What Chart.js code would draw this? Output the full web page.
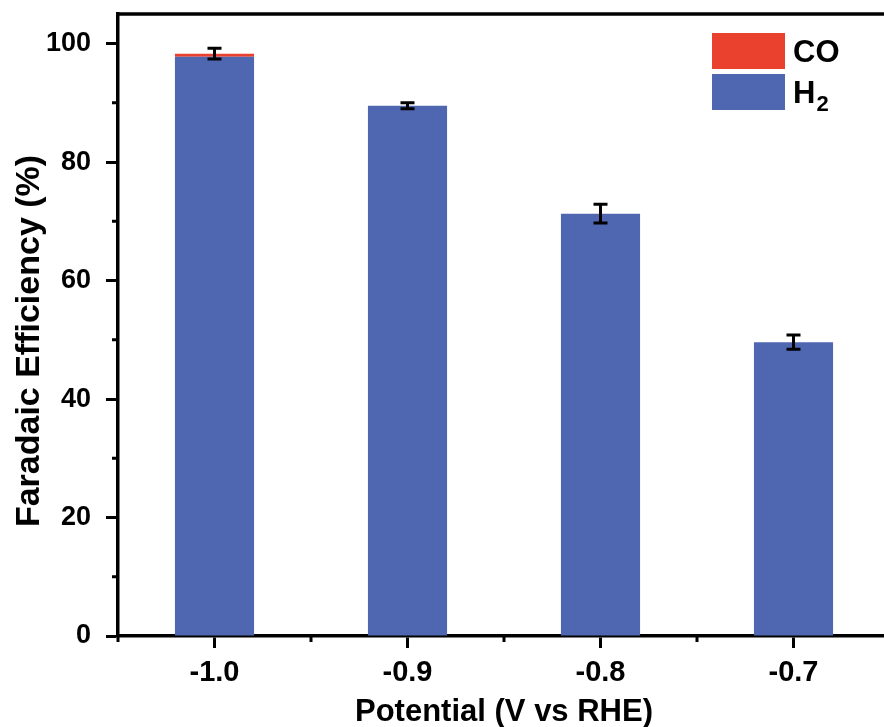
<!DOCTYPE html>
<html>
<head>
<meta charset="utf-8">
<title>Faradaic Efficiency</title>
<script src="https://cdn.jsdelivr.net/npm/chart.js@4.4.1/dist/chart.umd.min.js"></script>
<style>
  html, body { margin: 0; padding: 0; background: #fff; overflow: hidden; }
  #wrap { width: 900px; height: 727px; }
</style>
</head>
<body>
<div id="wrap"><canvas id="feChart"></canvas></div>
<script>
// Faradaic efficiency per applied potential
const potentials = ['-1.0', '-0.9', '-0.8', '-0.7'];
const h2Values = [97.8, 89.5, 71.3, 49.6];
const coValues = [0.5, 0, 0, 0];
const totalErrors = [0.9, 0.5, 1.6, 1.2];   // +/- on the stacked total
const yMajorTicks = [0, 20, 40, 60, 80, 100];
const yMinorTicks = [10, 30, 50, 70, 90];
const yMax = 105;
const yTitle = 'Faradaic Efficiency (%)';

const blue = 'rgb(79, 103, 176)';
const red = 'rgb(234, 65, 47)';
const fontFamily = '"Liberation Sans", Arial, Helvetica, sans-serif';

Chart.defaults.font.family = fontFamily;
Chart.defaults.font.weight = 'bold';
Chart.defaults.color = '#000';

// top frame line, minor ticks on both axes, and the rotated y title
const frameTicks = {
    id: 'frameTicks',
    afterDraw(chart) {
        const {ctx, chartArea, scales} = chart;
        ctx.save();
        ctx.strokeStyle = '#000';
        ctx.lineWidth = 3.5;
        ctx.beginPath();
        ctx.moveTo(chartArea.left - 1.5, chartArea.top);
        ctx.lineTo(chartArea.right + 20, chartArea.top);
        ctx.stroke();

        ctx.lineWidth = 3;
        ctx.beginPath();
        yMinorTicks.forEach(v => {
            const y = scales.y.getPixelForValue(v);
            ctx.moveTo(chartArea.left, y);
            ctx.lineTo(chartArea.left - 6, y);
        });
        for (let i = -0.5; i <= potentials.length - 0.5; i += 1) {
            const x = scales.x.getPixelForValue(i);
            ctx.moveTo(x, chartArea.bottom);
            ctx.lineTo(x, chartArea.bottom + 6);
        }
        ctx.stroke();

        // title sits a bit below the middle of the axis
        ctx.translate(30, chartArea.top + 327);
        ctx.rotate(-Math.PI / 2);
        ctx.fillStyle = '#000';
        ctx.font = 'bold 34px ' + fontFamily;
        ctx.textAlign = 'center';
        ctx.textBaseline = 'middle';
        ctx.fillText(yTitle, 0, 0);
        ctx.restore();
    }
};

// error bars on top of each stacked column
const errorBars = {
    id: 'errorBars',
    afterDatasetsDraw(chart) {
        const {ctx, scales} = chart;
        ctx.save();
        ctx.strokeStyle = '#000';
        ctx.lineWidth = 3;
        potentials.forEach((p, i) => {
            const total = h2Values[i] + coValues[i];
            const x = scales.x.getPixelForValue(i);
            const yTop = scales.y.getPixelForValue(total + totalErrors[i]);
            const yBot = scales.y.getPixelForValue(total - totalErrors[i]);
            ctx.beginPath();
            ctx.moveTo(x, yTop);
            ctx.lineTo(x, yBot);
            ctx.moveTo(x - 7, yTop);
            ctx.lineTo(x + 7, yTop);
            ctx.moveTo(x - 7, yBot);
            ctx.lineTo(x + 7, yBot);
            ctx.stroke();
        });
        ctx.restore();
    }
};

// legend box in the upper right, trailing digits drawn as subscripts
const boxLegend = {
    id: 'boxLegend',
    afterDraw(chart) {
        const {ctx, chartArea} = chart;
        const items = chart.data.datasets.slice().reverse();
        const left = chartArea.left + 594;
        let top = chartArea.top + 19;
        ctx.save();
        items.forEach(ds => {
            ctx.fillStyle = ds.backgroundColor;
            ctx.fillRect(left, top, 73, 36);
            const m = ds.label.match(/^(.*?)(\d*)$/);
            ctx.fillStyle = '#000';
            ctx.textBaseline = 'alphabetic';
            ctx.font = 'bold 31px ' + fontFamily;
            ctx.fillText(m[1], left + 81, top + 29);
            if (m[2]) {
                const w = ctx.measureText(m[1]).width;
                ctx.font = 'bold 22px ' + fontFamily;
                ctx.fillText(m[2], left + 81 + w + 1, top + 37);
            }
            top += 41;
        });
        ctx.restore();
    }
};

const ctx = document.getElementById('feChart').getContext('2d');
const feChart = new Chart(ctx, {
    type: 'bar',
    data: {
        labels: potentials,
        datasets: [
            {
                label: 'H2',
                data: h2Values,
                backgroundColor: blue,
                borderWidth: 0,
                barPercentage: 0.41,
                categoryPercentage: 1
            },
            {
                label: 'CO',
                data: coValues,
                backgroundColor: red,
                borderWidth: 0,
                barPercentage: 0.41,
                categoryPercentage: 1
            }
        ]
    },
    options: {
        responsive: true,
        maintainAspectRatio: false,
        animation: false,
        layout: {
            padding: {left: 0, right: 10, top: 14, bottom: 0}
        },
        plugins: {
            legend: {display: false},
            tooltip: {enabled: false}
        },
        scales: {
            x: {
                stacked: true,
                offset: true,
                grid: {
                    offset: false,
                    drawOnChartArea: false,
                    drawTicks: true,
                    tickLength: 12,
                    tickWidth: 3,
                    tickColor: '#000'
                },
                border: {display: true, color: '#000', width: 3.5},
                ticks: {
                    padding: 8,
                    font: {size: 29, weight: 'bold'},
                    color: '#000',
                    maxRotation: 0
                },
                title: {
                    display: true,
                    text: 'Potential (V vs RHE)',
                    font: {size: 31, weight: 'bold', lineHeight: 1},
                    color: '#000',
                    padding: {top: 0, bottom: -1}
                },
                afterFit(scale) {
                    scale.height = 91;
                    scale.paddingLeft = 0;
                    scale.paddingRight = 0;
                }
            },
            y: {
                stacked: true,
                min: 0,
                max: yMax,
                grid: {
                    drawOnChartArea: false,
                    drawTicks: true,
                    tickLength: 12,
                    tickWidth: 3,
                    tickColor: '#000'
                },
                border: {display: true, color: '#000', width: 3.5},
                ticks: {
                    stepSize: 20,
                    includeBounds: false,
                    padding: 15,
                    font: {size: 27, weight: 'bold'},
                    color: '#000',
                    callback: v => yMajorTicks.includes(v) ? v : ''
                },
                afterFit(scale) {
                    scale.width = 118;
                    scale.paddingTop = 0;
                    scale.paddingBottom = 0;
                }
            }
        }
    },
    plugins: [frameTicks, errorBars, boxLegend]
});
</script>
</body>
</html>
